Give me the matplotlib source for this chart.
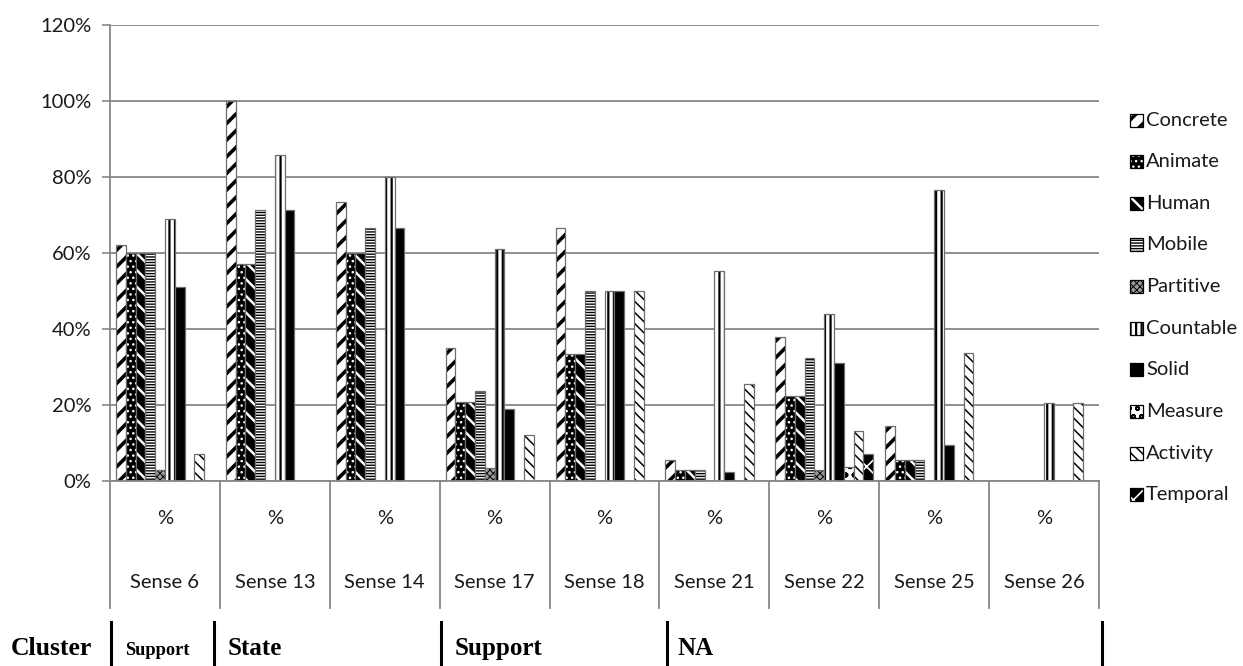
import matplotlib
matplotlib.use("Agg")
import matplotlib.pyplot as plt
from matplotlib.patches import Rectangle
from matplotlib.lines import Line2D
from matplotlib.ticker import FuncFormatter

# ---- data -------------------------------------------------------------
senses = ["Sense 6", "Sense 13", "Sense 14", "Sense 17", "Sense 18",
          "Sense 21", "Sense 22", "Sense 25", "Sense 26"]
sub_label = "%"

concrete  = [62.0, 100.0, 73.3, 35.0, 66.7,  5.5, 37.8, 14.6,  0.0]
animate   = [60.0,  57.1, 60.0, 20.7, 33.3,  2.9, 22.5,  5.5,  0.0]
human     = [60.0,  57.1, 60.0, 20.7, 33.3,  2.9, 22.5,  5.5,  0.0]
mobile    = [60.0,  71.4, 66.7, 23.7, 50.0,  2.9, 32.5,  5.5,  0.0]
partitive = [ 3.0,   0.0,  0.0,  3.3,  0.0,  0.0,  2.9,  0.0,  0.0]
countable = [69.0,  85.7, 80.0, 61.0, 50.0, 55.3, 44.0, 76.5, 20.4]
solid     = [51.0,  71.4, 66.7, 19.0, 50.0,  2.5, 31.0,  9.6,  0.0]
measure   = [ 0.0,   0.0,  0.0,  0.0,  0.0,  0.0,  3.8,  0.0,  0.0]
activity  = [ 7.0,   0.0,  0.0, 12.0, 50.0, 25.4, 13.2, 33.7, 20.4]
temporal  = [ 0.0,   0.0,  0.0,  0.0,  0.0,  0.0,  7.0,  0.0,  0.0]

series_names = ["Concrete", "Animate", "Human", "Mobile", "Partitive",
                "Countable", "Solid", "Measure", "Activity", "Temporal"]
series_values = [concrete, animate, human, mobile, partitive,
                 countable, solid, measure, activity, temporal]

clusters = ["Support", "State", "Support", "NA"]

# ---- fill styles: (face, hatch colour, hatch, hatch linewidth) ---------
styles = [
    ("white", "black", "//",      2.6),
    ("black", "white", "...",     1.0),
    ("black", "white", "\\\\",    1.8),
    ("white", "black", "------",  1.0),
    ("#9a9a9a", "black", "xxxxx", 0.7),
    ("white", "black", "|||",     1.6),
    ("black", "black", "",        1.0),
    ("white", "black", "oo",      1.3),
    ("white", "black", "\\\\\\",  1.1),
    ("black", "white", "x",       1.2),
]

W, H = 1243, 666
fig = plt.figure(figsize=(W / 100, H / 100), dpi=100)
ax = fig.add_axes([110 / W, 185 / H, 989 / W, 456 / H])

GRAY = "#878787"
TXT = "#1a1a1a"
sans = ["Lato", "DejaVu Sans"]
serif = ["Liberation Serif", "DejaVu Serif"]


def hatched_rect(target, x, y, w, h, style, transform, outline="#6e6e6e"):
    face, hcol, hatch, hlw = style
    p = Rectangle((x, y), w, h, facecolor=face, edgecolor=hcol, hatch=hatch,
                  linewidth=0, transform=transform)
    if hasattr(p, "set_hatch_linewidth"):
        p.set_hatch_linewidth(hlw)
    target.add_artist(p) if target is fig else target.add_patch(p)
    o = Rectangle((x, y), w, h, fill=False, edgecolor=outline, linewidth=0.9,
                  transform=transform)
    target.add_artist(o) if target is fig else target.add_patch(o)


n_series = len(series_names)
bw = 0.089
for si, (vals, st) in enumerate(zip(series_values, styles)):
    for ci, v in enumerate(vals):
        if v <= 0:
            continue
        x0 = ci - n_series * bw / 2 + si * bw
        hatched_rect(ax, x0, 0, bw, v, st, ax.transData)

ax.set_xlim(-0.5, len(senses) - 0.5)
ax.set_ylim(0, 120)
ax.set_yticks(range(0, 121, 20))
ax.yaxis.set_major_formatter(FuncFormatter(lambda v, _: f"{v:.0f}%"))
ax.set_xticks([])
ax.yaxis.grid(True, color=GRAY, linewidth=1.3)
ax.set_axisbelow(True)
for s in ("top", "right"):
    ax.spines[s].set_visible(False)
for s in ("left", "bottom"):
    ax.spines[s].set_color(GRAY)
    ax.spines[s].set_linewidth(1.3)
ax.tick_params(axis="y", length=5.5, width=1.2, color=GRAY, pad=8,
               labelsize=14.5, labelcolor=TXT)
for lab in ax.get_yticklabels():
    lab.set_fontfamily(sans)

# category table below the axis
tr = ax.get_xaxis_transform()
ax_h = 456.0
y_bottom = (481 - 608) / ax_h
for b in range(len(senses) + 1):
    ax.add_line(Line2D([b - 0.5, b - 0.5], [0, y_bottom], transform=tr,
                       color=GRAY, linewidth=1.3, clip_on=False))
for ci, name in enumerate(senses):
    ax.text(ci, (481 - 519) / ax_h, sub_label, transform=tr, ha="center",
            va="center", fontsize=14.5, color=TXT, family=sans)
    ax.text(ci, (481 - 582) / ax_h, name, transform=tr, ha="center",
            va="center", fontsize=14.5, color=TXT, family=sans)

# legend
for li, (name, st) in enumerate(zip(series_names, styles)):
    yc = 120 + li * 41.65
    hatched_rect(fig, 1130 / W, (H - yc - 6.5) / H, 13 / W, 13 / H, st,
                 fig.transFigure, outline="black")
    fig.text(1146 / W, (H - yc) / H, name, ha="left", va="center",
             fontsize=14.5, color=TXT, family=sans)

# cluster row
base = (H - 655) / H
fig.text(11 / W, base, "Cluster", ha="left", va="baseline", fontsize=18.5,
         fontweight="bold", family=serif, color="black")
for xl in (111, 214, 441, 667, 1102):
    fig.add_artist(Line2D([xl / W, xl / W], [0, (H - 622) / H],
                          transform=fig.transFigure, color="black",
                          linewidth=2.2))
cluster_x = [125, 228, 455, 678]
cluster_size = [13.2, 18, 18, 18]
for name, xc, fs in zip(clusters, cluster_x, cluster_size):
    fig.text(xc / W, base, name, ha="left", va="baseline", fontsize=fs,
             fontweight="bold", family=serif, color="black")

fig.savefig("out.png", dpi=100, facecolor="white")
